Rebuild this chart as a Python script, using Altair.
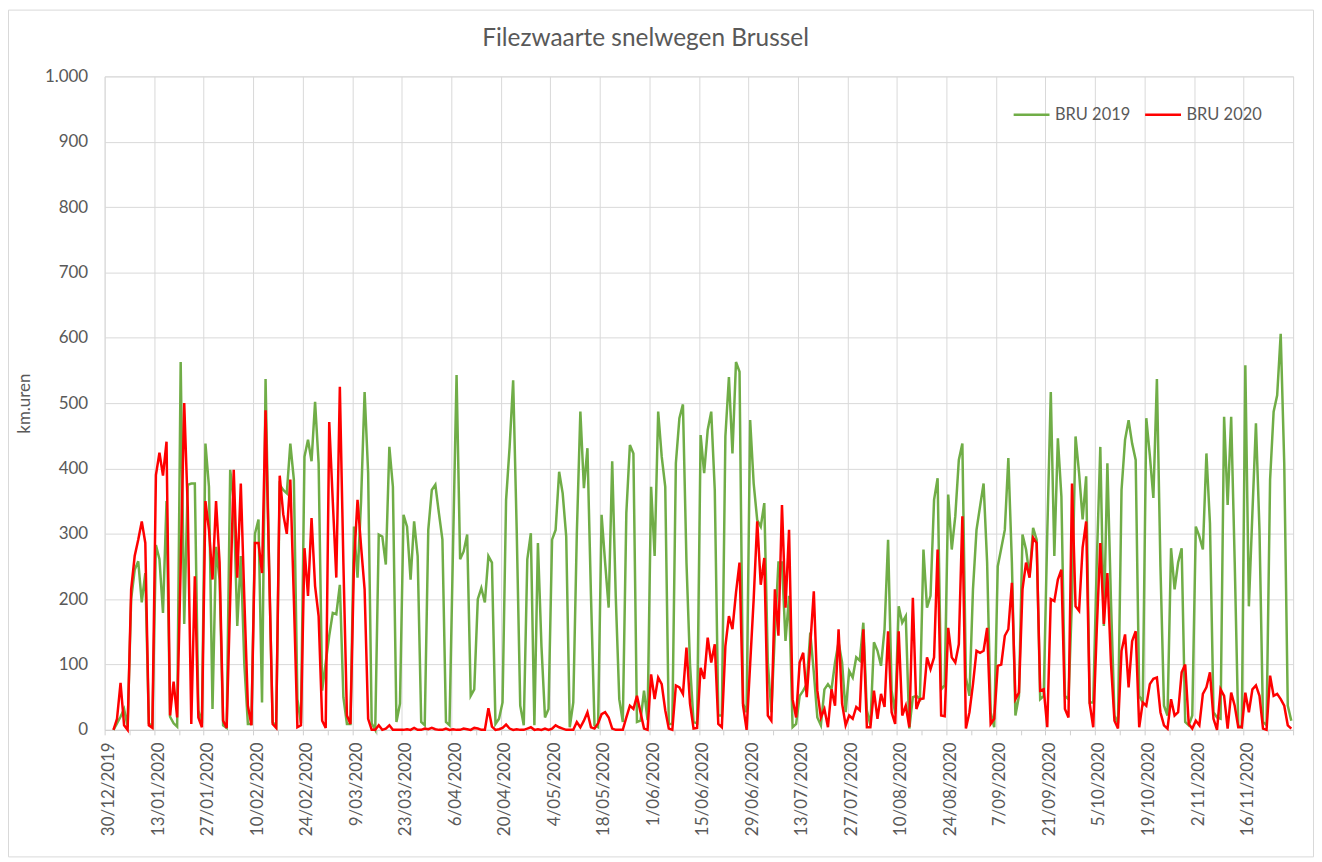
import altair as alt
import pandas as pd

# ---- data (daily values, km.uren), first point = 1/01/2020 ----
start_date = "2020-01-01"
bru2020 = [
    0, 17, 72, 7, 0, 215, 266, 291, 319, 286,
    7, 3, 390, 424, 389, 441, 22, 74, 19, 250,
    500, 340, 9, 235, 19, 4, 350, 306, 230, 350,
    256, 14, 3, 200, 398, 233, 377, 200, 37, 7,
    286, 286, 240, 489, 250, 9, 3, 389, 330, 300,
    383, 200, 4, 7, 278, 205, 324, 220, 174, 14,
    3, 471, 350, 233, 525, 256, 22, 9, 256, 352,
    281, 215, 17, 0, 0, 7, 0, 2, 7, 0,
    0, 0, 0, 1, 0, 3, 0, 0, 2, 1,
    3, 1, 0, 0, 2, 0, 1, 0, 0, 2,
    1, 0, 3, 2, 0, 0, 33, 5, 0, 1,
    3, 8, 2, 0, 1, 0, 0, 2, 4, 0,
    1, 0, 2, 0, 2, 7, 4, 2, 0, 0,
    0, 12, 4, 14, 27, 4, 2, 10, 24, 27,
    19, 2, 0, 0, 0, 19, 37, 32, 52, 27,
    2, 0, 85, 47, 80, 70, 30, 2, 0, 68,
    65, 55, 126, 40, 2, 3, 95, 78, 141, 103,
    131, 9, 4, 128, 174, 154, 210, 256, 37, 0,
    100, 200, 319, 222, 263, 22, 14, 215, 144, 344,
    187, 306, 47, 19, 103, 118, 50, 130, 212, 60,
    19, 32, 4, 62, 37, 154, 40, 7, 22, 17,
    35, 30, 154, 4, 4, 60, 17, 55, 35, 151,
    27, 9, 151, 22, 37, 4, 202, 32, 47, 48,
    111, 93, 111, 276, 22, 21, 156, 111, 103, 131,
    327, 2, 27, 70, 121, 118, 121, 156, 9, 17,
    98, 100, 144, 154, 225, 47, 57, 215, 256, 233,
    294, 286, 60, 62, 4, 200, 197, 230, 245, 32,
    19, 377, 189, 182, 279, 319, 40, 4, 154, 286,
    162, 240, 103, 14, 2, 121, 146, 65, 136, 151,
    4, 42, 37, 70, 78, 80, 27, 7, 2, 47,
    22, 27, 88, 100, 9, 2, 14, 7, 55, 65,
    88, 17, 0, 62, 52, 2, 57, 37, 4, 4,
    57, 27, 62, 68, 52, 2, 0, 83, 52, 55,
    47, 37, 7, 2,
]
bru2019 = [
    0, 10, 20, 32, 5, 200, 245, 258, 195, 240,
    10, 5, 283, 261, 179, 350, 20, 10, 5, 563,
    162, 375, 377, 377, 30, 10, 438, 372, 32, 280,
    230, 7, 3, 398, 350, 159, 266, 100, 9, 9,
    300, 322, 42, 537, 250, 12, 5, 375, 367, 362,
    438, 383, 47, 10, 418, 444, 411, 502, 408, 60,
    103, 144, 179, 177, 222, 50, 9, 9, 311, 233,
    350, 517, 393, 10, 0, 299, 296, 253, 433, 372,
    12, 40, 329, 311, 230, 319, 266, 12, 7, 306,
    367, 375, 332, 291, 12, 7, 280, 543, 261, 273,
    299, 52, 62, 200, 217, 195, 266, 256, 9, 17,
    42, 352, 433, 535, 306, 37, 7, 261, 301, 7,
    286, 128, 19, 32, 291, 306, 395, 362, 296, 4,
    42, 301, 487, 370, 431, 205, 7, 4, 329, 256,
    187, 411, 205, 47, 12, 332, 436, 423, 12, 14,
    60, 15, 372, 266, 487, 418, 372, 9, 9, 408,
    477, 498, 256, 100, 12, 10, 451, 393, 459, 487,
    367, 22, 22, 449, 540, 423, 563, 548, 40, 27,
    474, 377, 321, 311, 347, 103, 27, 150, 256, 256,
    136, 205, 4, 9, 52, 60, 70, 149, 88, 19,
    7, 62, 70, 62, 103, 134, 103, 27, 90, 80,
    111, 106, 164, 30, 7, 134, 121, 98, 154, 291,
    60, 25, 189, 164, 174, 2, 50, 52, 47, 276,
    187, 205, 352, 385, 62, 68, 360, 276, 327, 413,
    438, 80, 52, 215, 306, 342, 377, 256, 27, 4,
    250, 278, 306, 416, 256, 22, 52, 299, 276, 235,
    309, 291, 47, 52, 300, 517, 266, 446, 357, 52,
    47, 200, 449, 393, 322, 388, 42, 42, 256, 433,
    159, 408, 200, 22, 10, 367, 444, 474, 438, 413,
    52, 42, 477, 420, 355, 537, 250, 37, 22, 278,
    215, 256, 278, 12, 7, 22, 311, 296, 276, 423,
    316, 27, 19, 17, 479, 344, 479, 256, 7, 4,
    558, 189, 332, 469, 306, 12, 7, 383, 487, 512,
    606, 408, 37, 14,
]
series_names = ["BRU 2019", "BRU 2020"]
series_colors = ["#70AD47", "#FF0000"]
axis_start = "2019-12-30"
axis_end = "2020-11-30"
y_ticks = [0, 100, 200, 300, 400, 500, 600, 700, 800, 900, 1000]
chart_title = "Filezwaarte snelwegen Brussel"

# ---- table ----
dates = pd.date_range(start_date, periods=len(bru2020), freq="D", tz="UTC") + pd.Timedelta(hours=12)
iso = dates.strftime("%Y-%m-%dT%H:%M:%SZ")
df = pd.concat([
    pd.DataFrame({"date": iso, "value": bru2019, "series": series_names[0]}),
    pd.DataFrame({"date": iso, "value": bru2020, "series": series_names[1]}),
])

DAY = 86400000
t0 = int(pd.Timestamp(axis_start, tz="UTC").value // 10**6)
t1 = int(pd.Timestamp(axis_end, tz="UTC").value // 10**6)
week_ticks = list(range(t0, t1 + 1, 7 * DAY))
two_weeks = 14 * DAY

TXT = "#595959"
GRID = "#d9d9d9"
FONT = "Lato"

x_axis = alt.Axis(
    values=week_ticks,
    labelExpr=f"((datum.value - {t0}) % {two_weeks} == 0 && datum.value < {t1}) ? utcFormat(datum.value, '%-d/%m/%Y') : ''",
    labelAngle=270,
    labelFontSize=17,
    labelColor=TXT,
    labelFont=FONT,
    labelPadding=7,
    labelOffset=4,
    labelFlush=False,
    labelOverlap=False,
    labelBound=False,
    tickSize=5,
    tickColor="#d0d0d0",
    domainColor="#d0d0d0",
    grid=True,
    gridColor=GRID,
    gridOpacity={"condition": {"test": f"(datum.value - {t0}) % {two_weeks} == 0", "value": 1}, "value": 0},
    title=None,
)

y_axis = alt.Axis(
    values=y_ticks,
    labelExpr="datum.value >= 1000 ? replace(format(datum.value, ','), ',', '.') : format(datum.value, 'd')",
    labelFontSize=17,
    labelColor=TXT,
    labelFont=FONT,
    labelPadding=17,
    ticks=False,
    domain=False,
    grid=True,
    gridColor=GRID,
    title="km.uren",
    titleFontSize=17,
    titleFontWeight="normal",
    titleColor=TXT,
    titleFont=FONT,
    titlePadding=11,
)

lines = alt.Chart(df).mark_line(strokeWidth=2.5, interpolate="linear").encode(
    x=alt.X("date:T", scale=alt.Scale(type="utc", domain=[t0, t1]), axis=x_axis),
    y=alt.Y("value:Q", scale=alt.Scale(domain=[0, 1000], nice=False), axis=y_axis),
    color=alt.Color(
        "series:N",
        scale=alt.Scale(domain=series_names, range=series_colors),
        legend=alt.Legend(
            orient="none",
            legendX=911,
            legendY=19,
            direction="horizontal",
            title=None,
            symbolType="stroke",
            symbolStrokeWidth=2.5,
            symbolSize=1296,
            labelFontSize=16.5,
            labelColor=TXT,
            labelFont=FONT,
            labelOffset=4,
            columnPadding=9,
        ),
    ),
)

border = alt.Chart(alt.Data(values=[{}])).mark_rect(
    fill="transparent", stroke=GRID, strokeWidth=1
).encode(
    x=alt.value(-96.5), x2=alt.value(1213.5), y=alt.value(-66.5), y2=alt.value(783.5)
)

title_text = alt.Chart(alt.Data(values=[{"t": chart_title}])).mark_text(
    fontSize=24.5, font=FONT, color=TXT, align="center", baseline="middle"
).encode(
    x=alt.value(543), y=alt.value(-37), text="t:N"
)

chart = alt.layer(border, lines, title_text).properties(
    width=1193,
    height=656,
    autosize=alt.AutoSizeParams(type="none"),
    padding={"left": 97, "top": 67, "right": 21, "bottom": 128},
).configure_view(strokeWidth=0).configure(font=FONT, background="white")

chart.save("out.html", embed_options={"renderer": "svg", "actions": False})
